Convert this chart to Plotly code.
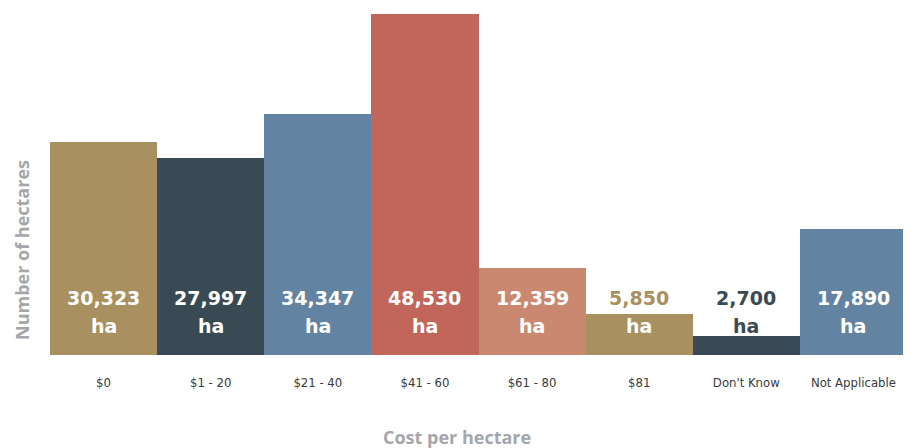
import plotly.graph_objects as go

categories = ["$0", "$1 - 20", "$21 - 40", "$41 - 60", "$61 - 80", "$81", "Don't Know", "Not Applicable"]
values = [30323, 27997, 34347, 48530, 12359, 5850, 2700, 17890]
value_labels = ["30,323", "27,997", "34,347", "48,530", "12,359", "5,850", "2,700", "17,890"]
colors = ["#A99060", "#3A4A55", "#6383A2", "#C2655A", "#CB8870", "#A99060", "#3A4A55", "#6383A2"]

W, H = 911, 448
OFF = 8  # page offset of the figure
# desired plot area in page pixels
PX0, PX1, PY0, PY1 = 50, 907, 14, 355
ML, MR, MT, MB = PX0 - OFF, W - (PX1 - OFF), PY0 - OFF, H - (PY1 - OFF)
pw = PX1 - PX0
ph = PY1 - PY0
ymax = max(values)


def fx(px):
    return (px - PX0) / pw


def fy(py):
    return (PY1 - py) / ph


fig = go.Figure(go.Bar(
    x=categories, y=values, marker=dict(color=colors, line=dict(width=0)),
    hoverinfo="x+y",
))

ann = []
line1_px = 298
line2_px = 326
for cat, v, lab, c in zip(categories, values, value_labels, colors):
    for txt, py in ((lab, line1_px), ("ha", line2_px)):
        frac = fy(py)
        col = "#FFFFFF" if v / ymax > frac else c
        ann.append(dict(x=cat, xref="x", y=frac, yref="paper", text=txt, showarrow=False,
                        xanchor="center", yanchor="middle",
                        font=dict(family="DejaVu Sans", size=19, color=col, weight="bold")))

ann.append(dict(x=fx(457), xref="paper", y=fy(437), yref="paper",
                text="Cost per hectare", showarrow=False, xanchor="center", yanchor="middle",
                font=dict(family="Open Sans", size=18, color="#A3A6AB", weight="bold")))
ann.append(dict(x=fx(22), xref="paper", y=fy(250), yref="paper",
                text="Number of hectares", showarrow=False, xanchor="center", yanchor="middle",
                textangle=-90,
                font=dict(family="Open Sans", size=18, color="#A3A6AB", weight="bold")))

fig.update_layout(
    width=W, height=H, margin=dict(l=ML, r=MR, t=MT, b=MB),
    paper_bgcolor="white", plot_bgcolor="white",
    bargap=0, showlegend=False, annotations=ann,
    xaxis=dict(showgrid=False, showline=False, zeroline=False, ticks="",
               tickfont=dict(family="DejaVu Sans Condensed", size=13, color="#3A3A3A"),
               ticklabelstandoff=18),
    yaxis=dict(range=[0, ymax], showgrid=False, showline=False, zeroline=False,
               showticklabels=False, ticks=""),
)

fig.write_html("out.html")
